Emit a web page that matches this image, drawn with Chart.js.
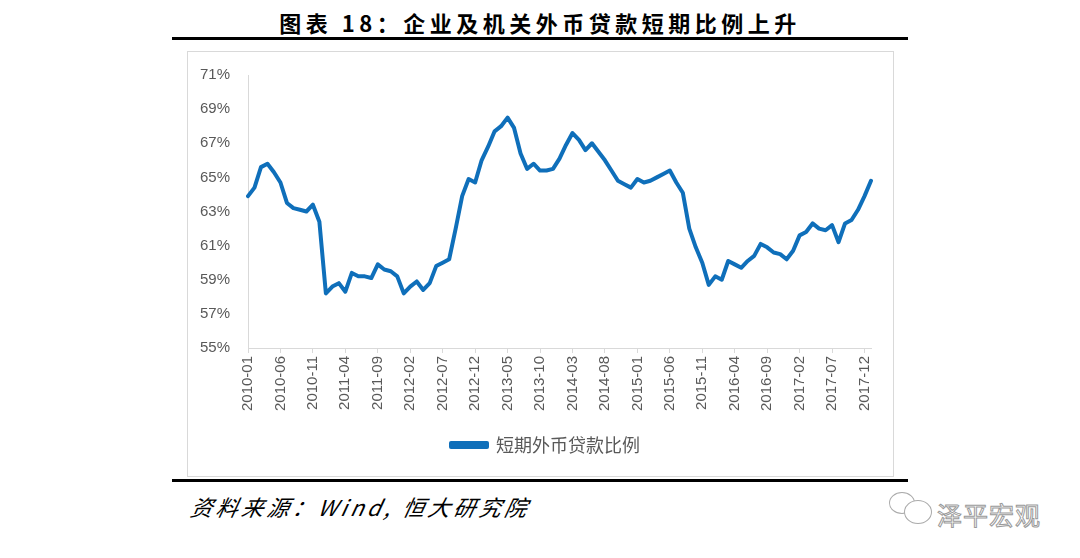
<!DOCTYPE html>
<html>
<head>
<meta charset="utf-8">
<script src="https://cdn.jsdelivr.net/npm/chart.js@4"></script>
<style>
  body { margin: 0; background: #fff; width: 1080px; height: 558px; position: relative; overflow: hidden; }
  #title { position: absolute; left: 0; width: 1080px; top: 6px; text-align: center;
           font-family: "Noto Sans CJK SC"; font-weight: bold; font-size: 22px; letter-spacing: 4.5px; color: #000; }
  .rule { position: absolute; left: 172px; width: 736px; height: 3px; background: #000; }
  #box { position: absolute; left: 187px; top: 51px; width: 705px; height: 424px; border: 1px solid #d9d9d9; }
  #source { position: absolute; left: 188px; top: 490px; font-family: "Noto Sans CJK SC"; font-style: italic;
            font-size: 22px; letter-spacing: 3.5px; color: #000; transform: skewX(-12deg); transform-origin: left bottom; }
  #mark { position: absolute; left: 937px; top: 496px; font-family: "Noto Sans CJK SC"; font-size: 25px;
          color: #fff; -webkit-text-stroke: 1px #9a9a9a; letter-spacing: 1px; }
  .bub { position: absolute; border: 1.5px solid #aaa; border-radius: 50%; background: #fff; }
</style>
</head>
<body>
<div id="title">图表 18：企业及机关外币贷款短期比例上升</div>
<div class="rule" style="top:37px"></div>
<div id="box"><canvas id="lineChart" width="705" height="424"></canvas></div>
<div class="rule" style="top:479px"></div>
<div id="source">资料来源：Wind, 恒大研究院</div>
<div class="bub" style="left:889px;top:492px;width:24px;height:20px"></div>
<div class="bub" style="left:904px;top:500px;width:26px;height:22px"></div>
<div id="mark">泽平宏观</div>

<script>
// monthly, 2010-01 .. 2018-01
let months = [];
for (let y = 2010; y <= 2018; y++) {
    for (let m = 1; m <= 12; m++) {
        if (y === 2018 && m > 1) break;
        months.push(y + '-' + (m < 10 ? '0' + m : m));
    }
}

let shortTermRatio = [
    63.9, 64.4, 65.6, 65.8, 65.3, 64.7, 63.5, 63.2, 63.1, 63.0, 63.4, 62.4,
    58.2, 58.6, 58.8, 58.3, 59.4, 59.2, 59.2, 59.1, 59.9, 59.6, 59.5, 59.2,
    58.2, 58.6, 58.9, 58.4, 58.8, 59.8, 60.0, 60.2, 62.0, 63.9, 64.9, 64.7,
    66.0, 66.8, 67.7, 68.0, 68.5, 67.9, 66.4, 65.5, 65.8, 65.4, 65.4, 65.5,
    66.1, 66.9, 67.6, 67.2, 66.6, 67.0, 66.5, 66.0, 65.4, 64.8, 64.6, 64.4,
    64.9, 64.7, 64.8, 65.0, 65.2, 65.4, 64.7, 64.1, 62.0, 60.9, 60.0, 58.7,
    59.2, 59.0, 60.1, 59.9, 59.7, 60.1, 60.4, 61.1, 60.9, 60.6, 60.5, 60.2,
    60.7, 61.6, 61.8, 62.3, 62.0, 61.9, 62.2, 61.2, 62.3, 62.5, 63.1, 63.9,
    64.8
];

let yTicks = [55, 57, 59, 61, 63, 65, 67, 69, 71];

// push the bottom legend a bit right, like the original
let legendShift = {
    id: 'legendShift',
    afterLayout: function(chart) {
        chart.legend.left += 16;
        chart.legend.right += 16;
    }
};

let ctx = document.getElementById('lineChart').getContext('2d');

let lineChart = new Chart(ctx, {
    type: 'line',
    data: {
        labels: months,
        datasets: [{
            label: '短期外币贷款比例',
            data: shortTermRatio,
            borderColor: '#0f6fba',
            backgroundColor: '#0f6fba',
            borderWidth: 4,
            pointRadius: 0,
            tension: 0,
            borderJoinStyle: 'round',
            borderCapStyle: 'round'
        }]
    },
    options: {
        responsive: false,
        animation: false,
        layout: {
            padding: { left: 0, top: 23, right: 22, bottom: 12 }
        },
        plugins: {
            legend: {
                display: true,
                position: 'bottom',
                labels: {
                    boxWidth: 36,
                    boxHeight: 4,
                    padding: 8,
                    color: '#595959',
                    font: { family: 'Noto Sans CJK SC', size: 18 }
                }
            },
            tooltip: { enabled: false }
        },
        scales: {
            x: {
                offset: false,
                grid: {
                    display: true,
                    drawOnChartArea: false,
                    drawTicks: true,
                    tickLength: 5,
                    color: '#d9d9d9'
                },
                border: { display: true, color: '#d9d9d9', width: 1 },
                ticks: {
                    autoSkip: false,
                    maxRotation: 90,
                    minRotation: 90,
                    padding: 3,
                    color: '#595959',
                    font: { family: 'Liberation Sans', size: 15 },
                    callback: function(val, index) {
                        return index % 5 === 0 ? months[index] : null;
                    }
                },
                afterFit: function(scale) { scale.height = 80; }
            },
            y: {
                min: 55,
                max: 71,
                afterBuildTicks: function(scale) {
                    scale.ticks = yTicks.map(v => ({ value: v }));
                },
                grid: { display: false },
                border: { display: true, color: '#d9d9d9', width: 1 },
                ticks: {
                    padding: 10,
                    color: '#595959',
                    font: { family: 'Liberation Sans', size: 15 },
                    callback: function(v) { return v + '%'; }
                },
                afterFit: function(scale) { scale.width = 60; }
            }
        }
    },
    plugins: [legendShift]
});
</script>
</body>
</html>
